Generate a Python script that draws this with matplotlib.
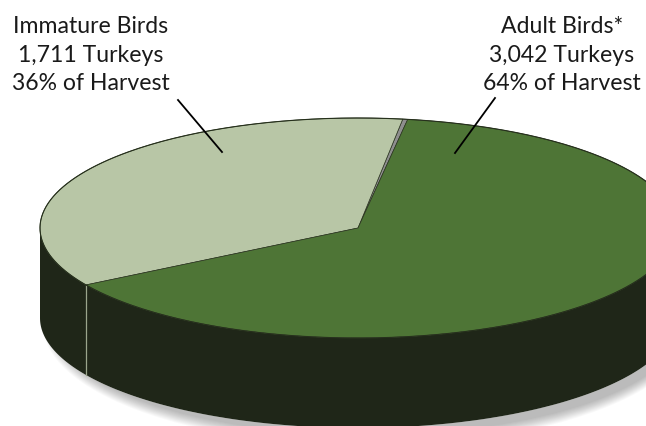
import numpy as np
import matplotlib.pyplot as plt
from matplotlib.patches import Polygon, Ellipse

# harvest numbers
labels = ['Unknown', 'Immature Birds', 'Adult Birds*']
turkeys = [12, 1711, 3042]
share = ['', '36%', '64%']
top_colors = ['#8e8e8e', '#b8c6a6', '#4e7536']
side_color = '#1f2618'

fig = plt.figure(figsize=(6.46, 4.26), dpi=100)
ax = fig.add_axes([0, 0, 1, 1])
ax.set_xlim(0, 646)
ax.set_ylim(426, 0)
ax.axis('off')

cx, cy = 358, 228
rx, ry = 318, 110
depth = 90
start = 81.0

def pts(t0, t1, dy=0, n=200):
    t = np.radians(np.linspace(t0, t1, n))
    return np.column_stack([cx + rx*np.cos(t), cy - ry*np.sin(t) + dy])

# soft shadow under the pie
for i in range(12):
    ax.add_patch(Ellipse((cx + 10, cy + depth + 7), 2*rx - 8 + 2*i, 2*ry + 2*i,
                         color='black', alpha=0.025, lw=0, zorder=1))
ax.add_patch(Ellipse((cx, cy + depth), 2*rx, 2*ry, color='white', lw=0, zorder=1.5))

# angles of the slices
total = sum(turkeys)
bounds = [start]
for v in turkeys:
    bounds.append(bounds[-1] + 360*v/total)

# front wall (lower half of the ellipse)
top = pts(180, 360)
bot = pts(360, 180, depth)
ax.add_patch(Polygon(np.vstack([top, bot]), closed=True, fc=side_color, ec='none', zorder=2))
for b in bounds:
    a = b % 360
    if 180 < a < 360:
        p = pts(a, a, n=1)[0]
        ax.plot([p[0], p[0]], [p[1], p[1] + depth], color='#9aa58c', lw=0.9, zorder=3)

# top faces
for i, v in enumerate(turkeys):
    arc = pts(bounds[i], bounds[i+1])
    poly = np.vstack([[cx, cy], arc])
    ax.add_patch(Polygon(poly, closed=True, fc=top_colors[i], ec='#2a3320', lw=0.5, zorder=4))

# rim line
rim = pts(0, 360, n=400)
ax.plot(rim[:, 0], rim[:, 1], color='#26301c', lw=0.8, zorder=5)

# leader lines
ax.plot([178, 222], [100, 152], color='black', lw=1.3, zorder=6)
ax.plot([495, 455], [98, 153], color='black', lw=1.3, zorder=6)

font = dict(family='Lato', fontsize=16.6, color='#1a1a1a', ha='center', va='center')
ax.text(91, 55, '%s\n%s Turkeys\n%s of Harvest' % (labels[1], format(turkeys[1], ','), share[1]),
        linespacing=1.45, **font)
ax.text(562, 55, '%s\n%s Turkeys\n%s of Harvest' % (labels[2], format(turkeys[2], ','), share[2]),
        linespacing=1.45, **font)

fig.savefig('out.png', dpi=100)
